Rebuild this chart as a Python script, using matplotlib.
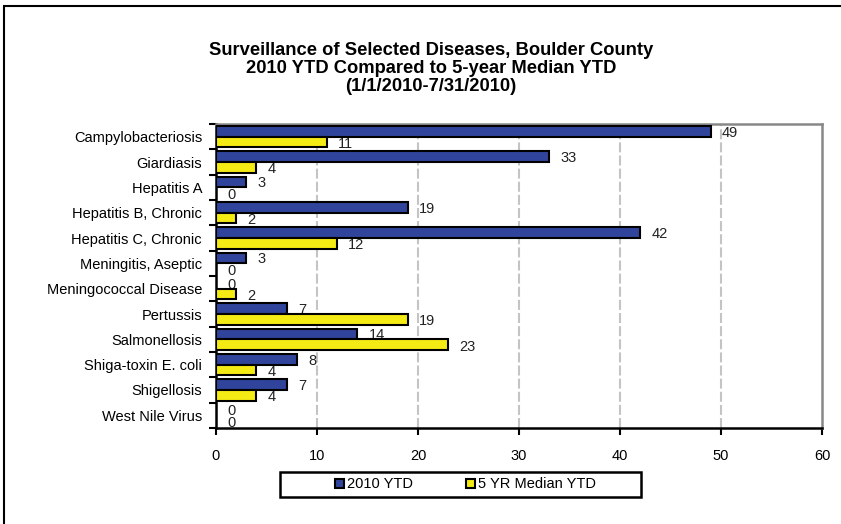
import matplotlib
matplotlib.use("Agg")
import matplotlib.pyplot as plt
from matplotlib.patches import Rectangle
import numpy as np

plt.rcParams['font.family'] = ['Liberation Sans', 'DejaVu Sans']

categories = ["Campylobacteriosis", "Giardiasis", "Hepatitis A", "Hepatitis B, Chronic",
              "Hepatitis C, Chronic", "Meningitis, Aseptic", "Meningococcal Disease",
              "Pertussis", "Salmonellosis", "Shiga-toxin E. coli", "Shigellosis",
              "West Nile Virus"]
ytd_2010 = [49, 33, 3, 19, 42, 3, 0, 7, 14, 8, 7, 0]
median_5yr = [11, 4, 0, 2, 12, 0, 2, 19, 23, 4, 4, 0]
series_names = ["2010 YTD", "5 YR Median YTD"]
xticks = [0, 10, 20, 30, 40, 50, 60]
title_lines = ["Surveillance of Selected Diseases, Boulder County",
               "2010 YTD Compared to 5-year Median YTD",
               "(1/1/2010-7/31/2010)"]

blue = '#31449B'
yellow = '#F5EB14'
fs = 10.5

fig = plt.figure(figsize=(8.41, 5.24), dpi=100)
fig.patches.append(Rectangle((4/841, -0.1), 1.2, 1 - 6/524 + 0.1, transform=fig.transFigure,
                             fill=False, edgecolor='black', linewidth=1.5))

ax = fig.add_axes([216/841, 1 - 428/524, (822 - 216)/841, (428 - 124)/524])

y = np.arange(len(categories))
h = 0.42
ax.barh(y - h/2, ytd_2010, height=h, color=blue, edgecolor='black', linewidth=1.5,
        label=series_names[0], zorder=3)
ax.barh(y + h/2, median_5yr, height=h, color=yellow, edgecolor='black', linewidth=1.5,
        label=series_names[1], zorder=3)

for i, (a, b) in enumerate(zip(ytd_2010, median_5yr)):
    ax.annotate(str(a), (a, i - h/2), xytext=(8, -1), textcoords='offset points',
                ha='left', va='center', fontsize=fs, color='#222222', zorder=2)
    ax.annotate(str(b), (b, i + h/2), xytext=(8, -1.5), textcoords='offset points',
                ha='left', va='center', fontsize=fs, color='#222222', zorder=2)

ax.set_xlim(0, 60)
ax.set_ylim(len(categories) - 0.5, -0.5)
ax.set_xticks(xticks)
ax.set_xticklabels([str(t) for t in xticks], fontsize=fs)
ax.set_yticks(y)
ax.set_yticklabels(categories, fontsize=fs)
ax.set_yticks(np.arange(len(categories) + 1) - 0.5, minor=True)
ax.tick_params(axis='y', which='major', length=0, pad=10)
ax.tick_params(axis='y', which='minor', length=5, width=1.5, direction='out')
ax.tick_params(axis='x', which='major', length=5, width=1.5, direction='out', pad=10)

for x in xticks[1:-1]:
    ax.axvline(x, color='#C4C4C4', linestyle=(0, (4.8, 1.5)), linewidth=1.5, zorder=1)

for s in ['top', 'right']:
    ax.spines[s].set_color('#888888')
    ax.spines[s].set_linewidth(1.8)
for s in ['left', 'bottom']:
    ax.spines[s].set_color('black')
    ax.spines[s].set_linewidth(1.8)

for k, (line, ypix) in enumerate(zip(title_lines, [50.5, 68.5, 86.5])):
    fig.text(431/841, 1 - ypix/524, line, ha='center', va='center',
             fontsize=13.2, fontweight='bold')

fig.patches.append(Rectangle((280/841, 1 - 497/524), 361/841, 25/524, transform=fig.transFigure,
                             fill=True, facecolor='white', edgecolor='black', linewidth=1.8,
                             zorder=1))
leg = fig.legend(loc='center', bbox_to_anchor=(465.5/841, 1 - 484.5/524), ncol=2,
                 fontsize=fs, frameon=False, handlelength=0.62,
                 handleheight=0.62, handletextpad=0.2, columnspacing=3.6,
                 borderpad=0.2)
leg.set_zorder(5)

fig.savefig('out.png', dpi=100)
